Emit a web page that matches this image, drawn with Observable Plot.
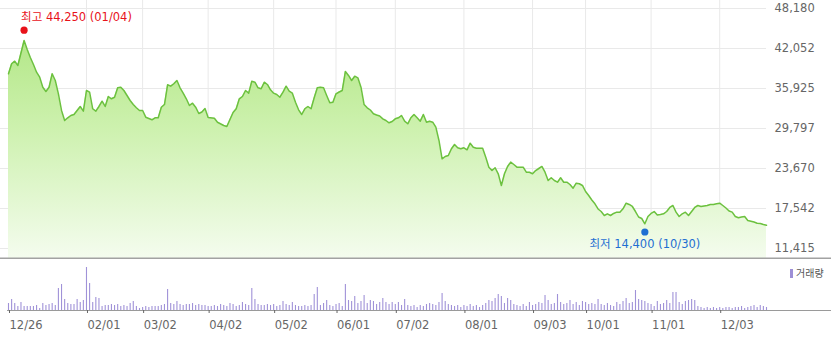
<!DOCTYPE html>
<html><head><meta charset="utf-8">
<script src="https://cdn.jsdelivr.net/npm/d3@7"></script>
<script src="https://cdn.jsdelivr.net/npm/@observablehq/plot@0.6"></script>
<style>
body{margin:0;background:#fff;font-family:"DejaVu Sans","Noto Sans CJK KR",sans-serif;}
#chart{position:relative;width:831px;height:338px;overflow:hidden;background:#fff;}
#price{position:absolute;left:0;top:0;}
#vol{position:absolute;left:0;top:259px;}
#legend{position:absolute;left:790px;top:267px;font-size:10px;line-height:12px;color:#555;display:flex;align-items:center;font-family:"Noto Sans CJK KR",sans-serif;}
#legend .sw{display:inline-block;width:3px;height:9px;background:#9d8fd6;margin-right:3px;}
</style></head><body>
<div id="chart"><div id="price"></div><div id="vol"></div><div id="legend"><span class="sw"></span>거래량</div></div>
<script>
// trading-day index (0 = 12/26) and closing price at each vertex
const priceDays = [0,1,2,3,5,6,7,8,9,10,11,12,13,14,15,16,17,18,19,20,21,22,23,24,25,26,27,28,29,30,31,32,33,34,35,36,37,38,39,40,41,42,43,44,45,46,47,48,49,50,51,52,53,54,55,56,57,58,59,60,61,62,63,64,66,67,69,70,72,73,74,75,76,77,78,79,80,81,82,83,84,85,86,87,88,89,90,91,92,93,94,95,96,97,98,99,100,101,102,103,104,105,106,107,108,109,110,111,112,113,114,115,116,117,118,119,120,121,122,123,124,125,126,127,128,129,130,131,132,133,134,135,136,137,138,139,140,141,142,143,144,145,146,147,148,149,150,151,152,153,154,155,156,157,158,159,160,161,162,163,164,165,166,167,168,169,170,171,172,173,174,175,176,177,178,179,180,181,182,183,184,185,186,187,188,189,190,191,192,193,194,195,196,197,198,199,200,201,202,203,204,205,206,207,208,209,210,211,212,213,214,215,216,217,218,219,220,221,222,223,224,225,226,227,228,229,230,231,232,233,234,235,236,237,238,239,240,241,242,243];
const priceValues = [38180,39710,40110,39450,43280,41900,40670,39600,38420,37660,36120,35470,36120,38180,37150,35110,32560,31020,31440,31790,31940,32560,33170,32450,35620,35360,32820,32450,33170,33980,33170,34700,34350,34590,36030,36120,35620,34850,34090,33470,32970,32560,32560,31530,31330,31130,31440,31440,33060,33470,36490,36280,36650,37150,36030,35210,34350,33320,33670,33060,32100,32330,32860,31480,31380,30760,30260,30100,32250,32820,34350,34700,35620,35210,37040,36890,36030,35880,36890,36540,35730,35210,35010,34590,35360,36280,35510,35210,33830,32660,31940,32820,33170,32820,34500,36030,36120,36030,34850,33730,33830,35110,35390,35620,38530,37920,37150,37810,37560,36120,33470,32970,32630,32050,31870,31710,31280,31020,30670,30870,31280,31440,31790,30920,30520,31440,31940,31440,30920,31940,30760,30920,30760,30000,27960,25160,25510,25660,26690,27350,26840,26690,26840,26530,27550,26930,26780,26780,26780,25400,23870,23360,23780,22860,21070,22860,23980,24640,24280,23870,23870,23870,23100,23100,22860,23360,23670,23980,23100,21830,22250,21830,21570,22250,21570,21570,21220,20650,21420,21330,21070,20150,19530,18840,18260,17470,17080,16470,16730,16470,16780,16980,16980,17500,18350,18160,17850,17080,16240,16010,15200,16320,16780,17080,16550,16620,16730,17080,17700,18000,16980,16320,16730,16980,16470,17080,17700,18000,17850,17930,18000,18160,18160,18260,18350,18000,17620,17160,16980,16320,16120,16240,16320,15700,15600,15470,15290,15240,15090,14980];
// daily volume (thousand shares), one per trading day 0..243
const volumes = [140,220,140,80,160,80,80,80,80,100,40,140,100,120,140,100,440,520,220,140,120,120,220,160,200,860,540,160,260,240,80,100,100,120,100,120,80,100,80,140,180,80,40,60,80,60,80,80,80,100,120,420,140,120,180,120,100,120,120,140,100,120,100,100,80,80,100,80,120,100,80,140,120,80,100,160,120,100,440,220,120,100,100,120,100,120,80,100,180,120,100,160,100,80,80,100,80,100,320,460,100,140,200,100,80,120,140,80,520,200,180,280,140,180,300,140,200,180,120,160,240,160,120,160,120,160,100,220,100,80,100,60,100,80,120,140,120,100,160,340,180,120,100,80,100,60,100,80,120,80,100,60,100,140,200,180,240,320,280,140,240,200,120,100,80,120,80,160,100,120,160,140,300,200,120,140,320,160,120,140,200,120,160,100,180,160,120,140,120,220,120,100,140,100,80,160,120,180,240,140,160,400,220,200,180,140,120,80,180,120,140,200,140,360,360,160,120,180,200,220,200,80,60,40,60,40,60,40,60,40,60,60,40,60,60,80,40,60,80,100,60,100,80,60];
// month ticks (trading-day index) and their labels
const tickDays = [0,25,43,64,85,105,124,146,168,185,206,228];
const tickLabels = ["12/26","02/01","03/02","04/02","05/02","06/01","07/02","08/01","09/03","10/01","11/01","12/03"];
// price axis ticks
const yTicks = [11415,17542,23670,29797,35925,42052,48180];
// extremes
const extremeDays = [5,204];
const extremeValues = [44250,14400];
const extremeLabels = ["최고 44,250 (01/04)","최저 14,400 (10/30)"];
const extremeColors = ["#e8121a","#1f6fd2"];

const prices = priceDays.map((d,i)=>({day:d, close:priceValues[i]}));
const vols = volumes.map((v,i)=>({day:i, vol:v}));
const extremes = extremeDays.map((d,i)=>({day:d, value:extremeValues[i], label:extremeLabels[i], color:extremeColors[i], hi:i===0}));
const labelOf = new Map(tickDays.map((d,i)=>[d,tickLabels[i]]));

const W = 831;
const xDomain = [-2.564, 243];
const yMin = 9882.5, yMax = 49405.5;
const font = {fontFamily:'"DejaVu Sans","Noto Sans CJK KR",sans-serif', fontSize:"11.5px", background:"transparent"};

function gradientDefs(){
  const ns = "http://www.w3.org/2000/svg";
  const defs = document.createElementNS(ns,"defs");
  const g = document.createElementNS(ns,"linearGradient");
  g.setAttribute("id","priceGrad");
  g.setAttribute("gradientUnits","userSpaceOnUse");
  g.setAttribute("x1","0"); g.setAttribute("x2","0");
  g.setAttribute("y1","20"); g.setAttribute("y2","258");
  [["0%","#aee580"],["45%","#cdf1ae"],["100%","#f4fcee"]].forEach(([o,c])=>{
    const s = document.createElementNS(ns,"stop");
    s.setAttribute("offset",o); s.setAttribute("stop-color",c);
    g.appendChild(s);
  });
  defs.appendChild(g);
  return defs;
}

const pricePlot = Plot.plot({
  width: W, height: 259,
  marginLeft: 0, marginRight: 65, marginTop: 0, marginBottom: 1,
  style: font,
  x: {domain: xDomain, axis: null},
  y: {domain: [yMin, yMax], axis: null},
  marks: [
    gradientDefs,
    Plot.ruleY(yTicks, {stroke:"#e9e9e9", strokeWidth:1}),
    Plot.ruleX(tickDays.slice(1), {stroke:"#e9e9e9", strokeWidth:1}),
    Plot.areaY(prices, {x:"day", y1: yMin, y2:"close", fill:"url(#priceGrad)"}),
    Plot.lineY(prices, {x:"day", y:"close", stroke:"#6cc13f", strokeWidth:1.5}),
    Plot.ruleY([yMin], {x1:-3, x2:265, stroke:"#a2a2a2", strokeWidth:2}),
    Plot.text(yTicks, {y: d=>d, frameAnchor:"right", dx:8, textAnchor:"start", text: d=>d3.format(",")(d), fill:"#666"}),
    Plot.dot(extremes.filter(d=>d.hi), {x:"day", y:"value", r:3.6, fill:"color", stroke:null, dy:-4}),
    Plot.dot(extremes.filter(d=>!d.hi), {x:"day", y:"value", r:3.6, fill:"color", stroke:null, dy:3}),
    Plot.text(extremes.filter(d=>d.hi), {x:"day", y:"value", text:"label", fill:"color", textAnchor:"start", dx:-3, dy:-17}),
    Plot.text(extremes.filter(d=>!d.hi), {x:"day", y:"value", text:"label", fill:"color", textAnchor:"middle", dy:15})
  ]
});
document.getElementById("price").appendChild(pricePlot);

const volPlot = Plot.plot({
  width: W, height: 79,
  marginLeft: 0, marginRight: 65, marginTop: 8, marginBottom: 28,
  style: font,
  x: {domain: xDomain, axis: null, label: null},
  y: {domain: [0, d3.max(volumes)], axis: null},
  marks: [
    Plot.ruleX(vols, {x:"day", y1:0, y2:"vol", stroke:"#a092d8", strokeWidth:1.1}),
    Plot.ruleY([0], {x1:-0.3, x2:265, stroke:"#9a9a9a"}),
    Plot.axisX(tickDays, {tickSize:3, tickPadding:7, textAnchor:"start", dx:1, label:null, tickFormat: d=>labelOf.get(d), color:"#666"})
  ]
});
document.getElementById("vol").appendChild(volPlot);
</script>
</body></html>
